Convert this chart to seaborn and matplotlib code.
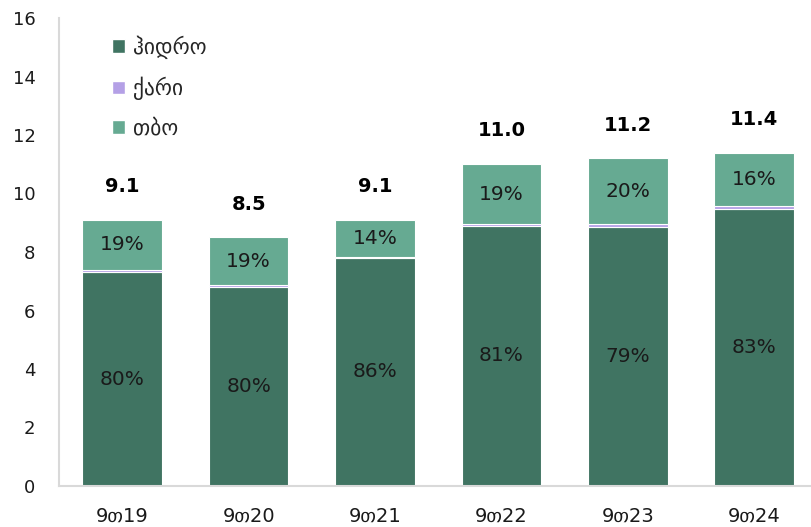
import matplotlib
matplotlib.use("Agg")
import matplotlib.pyplot as plt
import seaborn as sns
import pandas as pd
import numpy as np
from matplotlib.patches import Patch

categories = ["9თ19", "9თ20", "9თ21", "9თ22", "9თ23", "9თ24"]
hydro = [7.30, 6.80, 7.80, 8.90, 8.85, 9.46]
wind = [0.08, 0.08, 0.03, 0.05, 0.10, 0.10]
thermal = [1.72, 1.62, 1.27, 2.05, 2.25, 1.84]
series_names = ["ჰიდრო", "ქარი", "თბო"]
yticks = [0, 2, 4, 6, 8, 10, 12, 14, 16]

colors = ["#407462", "#b4a0e6", "#66aa92"]

sns.set_theme(style="white")
plt.rcParams['font.family'] = ['DejaVu Sans']

df = pd.DataFrame({"cat": categories, "hydro": hydro, "wind": wind, "thermal": thermal})
totals = df["hydro"] + df["wind"] + df["thermal"]

fig = plt.figure(figsize=(8.11, 5.27), dpi=100)
ax = fig.add_axes([59/811, 41/527, 1 - 59/811, (486-18)/527])

bottom = np.zeros(len(df))
for col, c in zip(["hydro", "wind", "thermal"], colors):
    sns.barplot(data=df, x="cat", y=col, color=c, bottom=bottom, width=0.63,
                edgecolor="white", linewidth=0.8, ax=ax, saturation=1)
    bottom = bottom + df[col].values

for i in range(len(df)):
    t = totals[i]
    h = df["hydro"][i]
    th = df["thermal"][i]
    ax.text(i, h / 2, f"{round(h / t * 100):.0f}%", ha="center", va="center",
            fontsize=14.5, color="#1a1a1a")
    ax.text(i, h + df["wind"][i] + th / 2, f"{round(th / t * 100):.0f}%", ha="center",
            va="center", fontsize=14.5, color="#1a1a1a")
    ax.annotate(f"{t:.1f}", (i, t), xytext=(0, 24), textcoords="offset points",
                ha="center", va="center", fontsize=14, fontweight="bold", color="black")

ax.set_ylim(0, 16)
ax.set_xlim(-0.5, 5.45)
ax.set_yticks(yticks)
ax.set_yticklabels([str(v) for v in yticks])
ax.set_xlabel("")
ax.set_ylabel("")
ax.tick_params(axis="y", length=0, pad=17, labelsize=13, labelcolor="#1a1a1a")
ax.tick_params(axis="x", length=0, pad=15, labelsize=14, labelcolor="#1a1a1a")
for s in ["top", "right"]:
    ax.spines[s].set_visible(False)
for s in ["left", "bottom"]:
    ax.spines[s].set_color("#d9d9d9")
    ax.spines[s].set_linewidth(1.5)

handles = [Patch(facecolor=c, edgecolor="white", label=n) for c, n in zip(colors, series_names)]
ax.legend(handles=handles, loc="upper left", bbox_to_anchor=(0.045, 1.005), frameon=False,
          fontsize=15.5, handlelength=0.6, handleheight=0.6, handletextpad=0.35,
          labelspacing=0.85)

fig.savefig("out.png", dpi=100)
